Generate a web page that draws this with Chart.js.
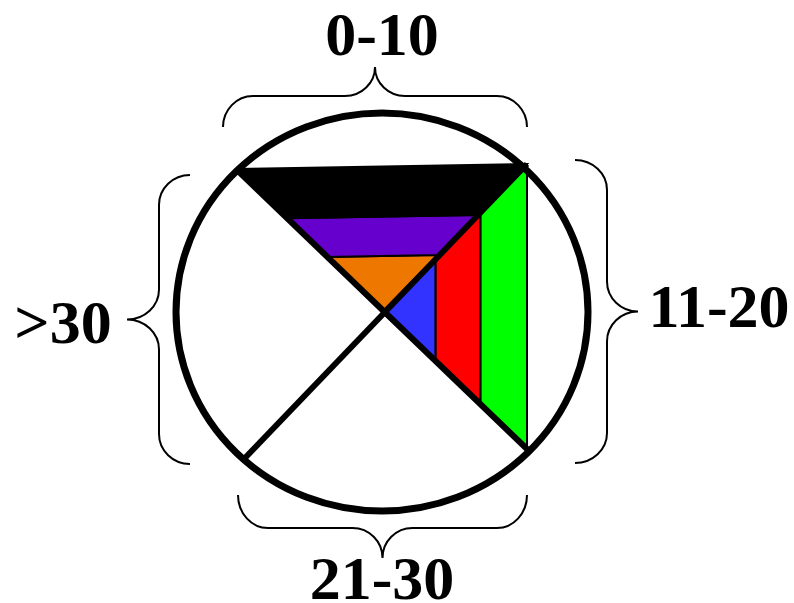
<!DOCTYPE html>
<html>
<head>
<meta charset="utf-8">
<script src="https://cdn.jsdelivr.net/npm/chart.js@4/dist/chart.umd.min.js"></script>
<style>
  html, body { margin: 0; padding: 0; background: #fff; }
  #wrap { width: 794px; height: 603px; position: relative; }
</style>
</head>
<body>
<div id="wrap"><canvas id="schema"></canvas></div>
<script>
// libellés des quatre quadrants (haut, droite, bas, gauche)
const quadrantLabels = ['0-10', '11-20', '21-30', '>30'];

// bandes du quadrant haut, de la corde vers le centre (part de la profondeur)
const topBandColors = ['#000000', '#6600cc', '#ee7700'];
const topBandDepth = [0.345, 0.27, 0.385];

// bandes du quadrant droit, de la corde vers le centre
const rightBandColors = ['#00ff00', '#ff0000', '#3333ff'];
const rightBandDepth = [0.32, 0.31, 0.37];

// géométrie du cercle
const CX = 382, CY = 312, RX = 206, RY = 199;
const TL = [236, 169], TR = [527, 164], BR = [527, 449], BL = [244, 459];

function lerp(p, q, t) {
  return { x: p[0] + (q[0] - p[0]) * t, y: p[1] + (q[1] - p[1]) * t };
}

// construit les polygones d'un quadrant à partir des profondeurs
function bandes(a, b, depths, colors) {
  const c = [CX, CY];
  const out = [];
  let f0 = 0;
  depths.forEach((d, i) => {
    const f1 = Math.min(1, f0 + d);
    const pts = [lerp(a, c, f0), lerp(b, c, f0), lerp(b, c, f1), lerp(a, c, f1), lerp(a, c, f0)];
    out.push({
      data: pts, showLine: true, fill: 'shape', tension: 0,
      backgroundColor: colors[i], borderColor: '#000', borderWidth: 2,
      pointRadius: 0, order: 2
    });
    f0 = f1;
  });
  return out;
}

function diagonale(p, q) {
  return {
    data: [{ x: p[0], y: p[1] }, { x: q[0], y: q[1] }],
    showLine: true, fill: false, borderColor: '#000', borderWidth: 6,
    pointRadius: 0, order: 1
  };
}

const datasets = [
  diagonale(TL, BR),
  diagonale(TR, BL),
  ...bandes(TL, TR, topBandDepth, topBandColors),
  ...bandes(TR, BR, rightBandDepth, rightBandColors)
];

// accolades : extrémités, normale, hauteur du dos, hauteur de la pointe
const braces = [
  { a: [223, 127], b: [527, 127], n: [0, -1], h1: 31, h2: 60 },
  { a: [575, 160], b: [575, 463], n: [1, 0], h1: 32, h2: 63 },
  { a: [238, 495], b: [527, 495], n: [0, 1], h1: 33, h2: 63 },
  { a: [190, 175], b: [190, 464], n: [-1, 0], h1: 31, h2: 63 }
];
const labelPos = [[382, 55], [719, 327], [382, 599], [63, 343]];

function drawBrace(ctx, br) {
  const dx = br.b[0] - br.a[0], dy = br.b[1] - br.a[1];
  const L = Math.hypot(dx, dy);
  const u = [dx / L, dy / L];
  const P = (s, t) => [br.a[0] + u[0] * s + br.n[0] * t, br.a[1] + u[1] * s + br.n[1] * t];
  const r = 30, k = 0.552, m = L / 2, h1 = br.h1, h2 = br.h2;
  ctx.beginPath();
  ctx.moveTo(...P(0, 0));
  ctx.bezierCurveTo(...P(0, h1 * k), ...P(r - r * k, h1), ...P(r, h1));
  ctx.lineTo(...P(m - r, h1));
  ctx.bezierCurveTo(...P(m - r + r * k, h1), ...P(m, h2 - (h2 - h1) * k), ...P(m, h2));
  ctx.bezierCurveTo(...P(m, h2 - (h2 - h1) * k), ...P(m + r - r * k, h1), ...P(m + r, h1));
  ctx.lineTo(...P(L - r, h1));
  ctx.bezierCurveTo(...P(L - r + r * k, h1), ...P(L, h1 * k), ...P(L, 0));
  ctx.stroke();
}

const decor = {
  id: 'decor',
  afterDatasetsDraw(chart) {
    const ctx = chart.ctx;
    const xs = chart.scales.x, ys = chart.scales.y;
    ctx.save();
    // cercle
    ctx.strokeStyle = '#000';
    ctx.lineWidth = 7;
    ctx.beginPath();
    ctx.ellipse(xs.getPixelForValue(CX), ys.getPixelForValue(CY), RX, RY, 0, 0, Math.PI * 2);
    ctx.stroke();
    // accolades
    ctx.lineWidth = 2;
    braces.forEach(b => drawBrace(ctx, b));
    // libellés
    ctx.fillStyle = '#000';
    ctx.font = 'bold 62px "Liberation Serif", "DejaVu Serif", serif';
    ctx.textAlign = 'center';
    ctx.textBaseline = 'alphabetic';
    quadrantLabels.forEach((t, i) => ctx.fillText(t, labelPos[i][0], labelPos[i][1]));
    ctx.restore();
  }
};

new Chart(document.getElementById('schema'), {
  type: 'scatter',
  data: { datasets: datasets },
  options: {
    responsive: true,
    maintainAspectRatio: false,
    animation: false,
    layout: { padding: 0 },
    scales: {
      x: { type: 'linear', min: 0, max: 794, display: false },
      y: { type: 'linear', min: 0, max: 603, reverse: true, display: false }
    },
    plugins: { legend: { display: false }, tooltip: { enabled: false } }
  },
  plugins: [decor]
});
</script>
</body>
</html>
